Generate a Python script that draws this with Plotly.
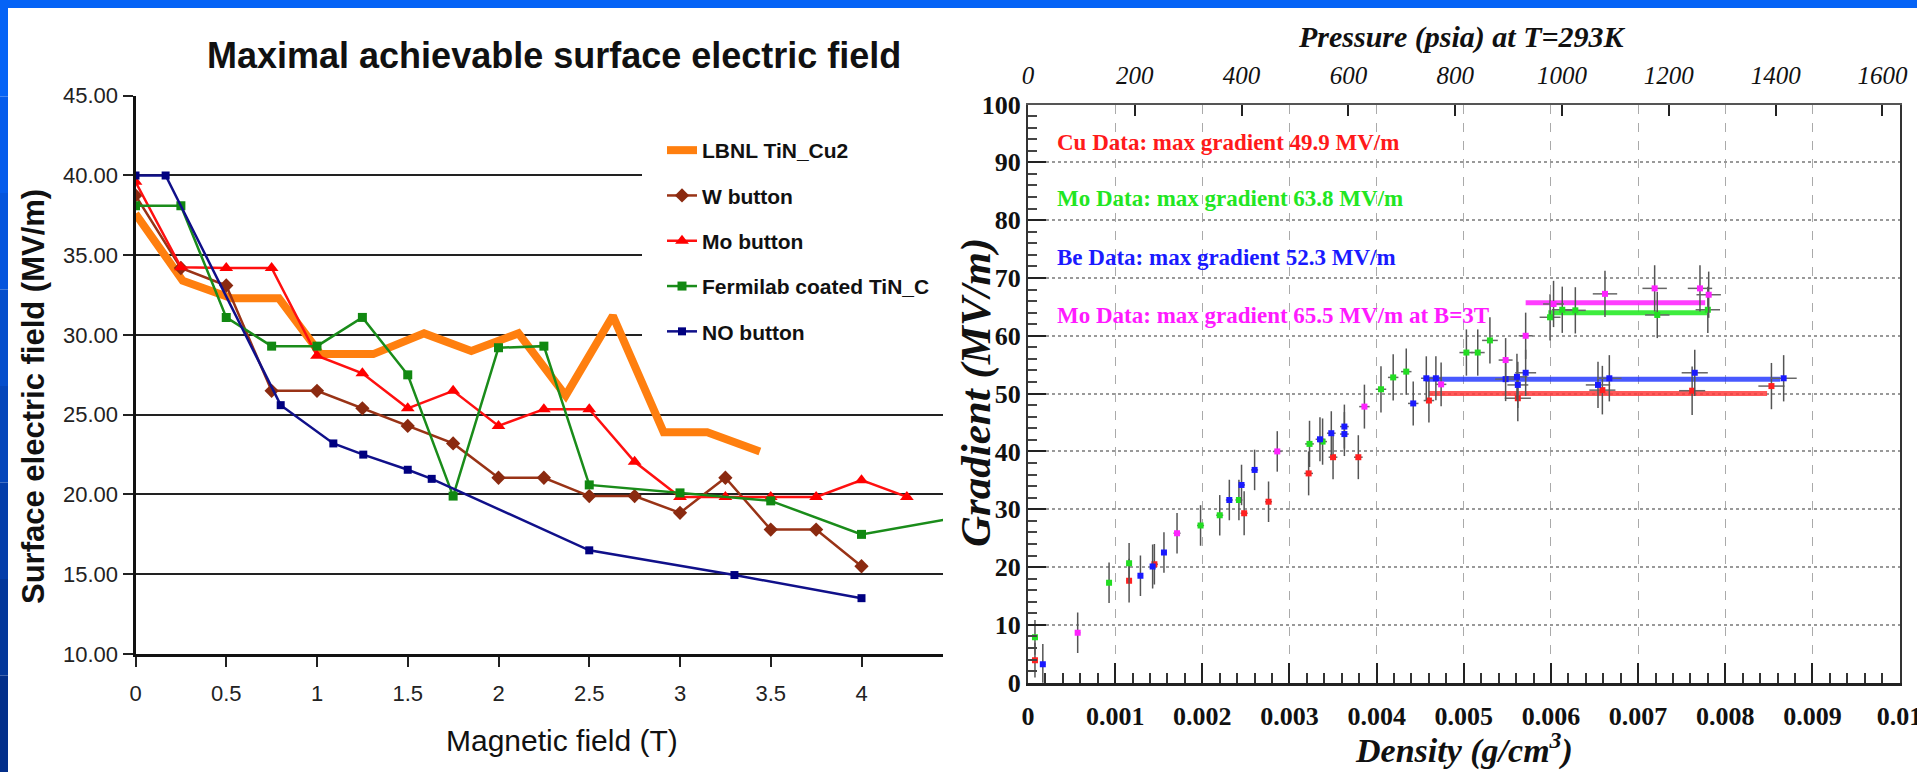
import plotly.graph_objects as go

W, H = 1917, 772

# ---------------- Left panel data (Magnetic field, T -> Surface E field, MV/m) -------------
lbnl_x = [0, 0.26, 0.53, 0.79, 1.02, 1.31, 1.59, 1.85, 2.11, 2.37, 2.63, 2.91, 3.15, 3.44]
lbnl_y = [37.6, 33.4, 32.3, 32.3, 28.8, 28.8, 30.1, 29.0, 30.1, 26.2, 31.2, 23.9, 23.9, 22.7]

w_x = [0, 0.25, 0.5, 0.75, 1, 1.25, 1.5, 1.75, 2, 2.25, 2.5, 2.75, 3, 3.25, 3.5, 3.75, 4]
w_y = [38.75, 34.2, 33.1, 26.5, 26.5, 25.4, 24.3, 23.2, 21.05, 21.05, 19.9, 19.9, 18.85, 21.05, 17.8, 17.8, 15.5]

mo_x = [0, 0.25, 0.5, 0.75, 1, 1.25, 1.5, 1.75, 2, 2.25, 2.5, 2.75, 3, 3.25, 3.5, 3.75, 4, 4.25]
mo_y = [39.6, 34.25, 34.2, 34.2, 28.7, 27.6, 25.4, 26.5, 24.3, 25.35, 25.35, 22.05, 19.85, 19.85, 19.85, 19.85, 20.9, 19.85]

fnal_x = [0, 0.25, 0.5, 0.75, 1, 1.25, 1.5, 1.75, 2, 2.25, 2.5, 3, 3.5, 4, 4.5]
fnal_y = [38.1, 38.1, 31.1, 29.3, 29.3, 31.1, 27.5, 19.9, 29.2, 29.3, 20.6, 20.1, 19.6, 17.5, 18.5]

no_x = [0, 0.166, 0.8, 1.09, 1.255, 1.5, 1.632, 2.5, 3.3, 4.0]
no_y = [40, 40, 25.6, 23.2, 22.5, 21.55, 20.98, 16.5, 14.95, 13.5]

left_names = ["LBNL TiN_Cu2", "W button", "Mo button", "Fermilab coated TiN_C", "NO button"]

# ---------------- Right panel data (Density g/cm3 -> Gradient MV/m) -------------
cu_d = [0.00008, 0.00116, 0.00145, 0.00248, 0.00276, 0.00322, 0.00350, 0.00379, 0.00460, 0.00562, 0.00659, 0.00762, 0.00853]
cu_g = [3.9, 17.65, 20.5, 29.3, 31.3, 36.2, 39.0, 39.0, 48.8, 49.2, 50.6, 50.5, 51.3]
cu_ey = [3.0, 3.8, 3.5, 3.8, 3.5, 3.8, 3.8, 3.8, 3.8, 4.0, 4.2, 4.2, 4.0]
cu_ex = [0.00003, 0.00003, 0.00004, 0.00004, 0.00004, 0.00005, 0.00005, 0.00005, 0.00006, 0.00015, 0.00015, 0.00015, 0.00015]

mo_d = [0.00008, 0.00093, 0.00116, 0.00198, 0.00220, 0.00242, 0.00323, 0.00338, 0.00405, 0.00419, 0.00434,
        0.00503, 0.00516, 0.00530, 0.00599, 0.00613, 0.00628, 0.00722, 0.00780]
mo_g = [7.85, 17.3, 20.65, 27.2, 28.95, 31.6, 41.3, 41.7, 50.75, 52.8, 53.8, 57.1, 57.1, 59.2, 63.2, 64.5, 64.4, 63.6, 64.5]
mo_ey = [3.0, 3.5, 3.5, 3.5, 3.5, 3.5, 4.0, 4.0, 4.0, 4.0, 4.0, 4.0, 4.0, 4.0, 4.0, 4.0, 4.0, 4.0, 4.0]
mo_ex = [0.00003, 0.00003, 0.00003, 0.00004, 0.00004, 0.00004, 0.00005, 0.00005, 0.00006, 0.00006, 0.00006,
         0.00008, 0.00008, 0.00009, 0.00012, 0.00012, 0.00012, 0.00014, 0.00014]

be_d = [0.00017, 0.00129, 0.00143, 0.00156, 0.00231, 0.00245, 0.00260, 0.00335, 0.00348, 0.00363, 0.00363,
        0.00442, 0.00457, 0.00468, 0.00548, 0.00561, 0.00562, 0.00571, 0.00654, 0.00667, 0.00765, 0.00867]
be_g = [3.2, 18.5, 20.1, 22.5, 31.6, 34.2, 36.8, 42.1, 43.15, 44.3, 43.0, 48.3, 52.65, 52.65, 52.5, 52.9, 51.5,
        53.6, 51.5, 52.65, 53.6, 52.65]
be_ey = [3.5, 3.5, 3.8, 3.5, 3.5, 3.5, 3.5, 3.8, 3.8, 3.8, 3.8, 3.8, 3.8, 3.8, 3.8, 4.0, 4.0, 4.0, 4.0, 4.0, 4.0, 4.0]
be_ex = [0.00003, 0.00003, 0.00003, 0.00003, 0.00004, 0.00004, 0.00004, 0.00005, 0.00005, 0.00005, 0.00005,
         0.00006, 0.00006, 0.00006, 0.00012, 0.00012, 0.00012, 0.00012, 0.00014, 0.00014, 0.00015, 0.00015]

mb_d = [0.00057, 0.00171, 0.00286, 0.00386, 0.00474, 0.00548, 0.00571, 0.00603, 0.00662, 0.00719, 0.00771, 0.00781]
mb_g = [8.65, 25.85, 40.0, 47.75, 51.6, 55.8, 60.0, 65.5, 67.25, 68.2, 68.2, 67.1]
mb_ey = [3.5, 3.5, 3.5, 3.8, 3.8, 3.8, 4.0, 4.0, 4.0, 4.0, 4.0, 4.0]
mb_ex = [0.00003, 0.00004, 0.00005, 0.00006, 0.00006, 0.00008, 0.00008, 0.00012, 0.00014, 0.00014, 0.00014, 0.00014]

band_x0 = [0.00460, 0.00597, 0.00456, 0.00571]
band_x1 = [0.00848, 0.00779, 0.00863, 0.00777]
band_y = [50.0, 64.0, 52.5, 65.7]
band_colors = ["rgba(255,60,60,0.85)", "rgba(40,235,40,0.9)", "rgba(40,60,255,0.85)", "rgba(255,40,255,0.9)"]

right_labels = ["Cu Data: max gradient 49.9 MV/m", "Mo Data: max gradient 63.8 MV/m",
                "Be Data: max gradient 52.3 MV/m", "Mo Data: max gradient 65.5 MV/m at B=3T"]
right_label_colors = ["#ff1a1a", "#22e622", "#1a1aff", "#ff1aff"]

density_ticks = [0, 0.001, 0.002, 0.003, 0.004, 0.005, 0.006, 0.007, 0.008, 0.009, 0.01]
density_ticktext = ["0", "0.001", "0.002", "0.003", "0.004", "0.005", "0.006", "0.007", "0.008", "0.009", "0.01"]


def px(x):
    return x / W


def py(y):
    return 1 - y / H


SANS = "Liberation Sans"
SERIF = "Liberation Serif"

fig = go.Figure()

# ---- left traces
fig.add_trace(go.Scatter(x=lbnl_x, y=lbnl_y, mode="lines", name=left_names[0], legendgroup="a",
                         line=dict(color="#ff7f0f", width=8), xaxis="x", yaxis="y"))
fig.add_trace(go.Scatter(x=w_x, y=w_y, mode="lines+markers", name=left_names[1], legendgroup="b",
                         line=dict(color="#993316", width=2.5),
                         marker=dict(symbol="diamond", size=11, color="#8b2a10"), xaxis="x", yaxis="y"))
fig.add_trace(go.Scatter(x=mo_x, y=mo_y, mode="lines+markers", name=left_names[2], legendgroup="c",
                         line=dict(color="#ff1010", width=2.5),
                         marker=dict(symbol="triangle-up", size=12, color="#ff0000"), xaxis="x", yaxis="y"))
fig.add_trace(go.Scatter(x=fnal_x, y=fnal_y, mode="lines+markers", name=left_names[3], legendgroup="d",
                         line=dict(color="#1a8c1a", width=2.5),
                         marker=dict(symbol="square", size=9, color="#118811"), xaxis="x", yaxis="y"))
fig.add_trace(go.Scatter(x=no_x, y=no_y, mode="lines+markers", name=left_names[4], legendgroup="e",
                         line=dict(color="#10108a", width=2.5),
                         marker=dict(symbol="square", size=8, color="#000080"), xaxis="x", yaxis="y"))

# ---- right traces: max-gradient bands
for x0, x1, yb, c in zip(band_x0, band_x1, band_y, band_colors):
    fig.add_trace(go.Scatter(x=[x0, x1], y=[yb, yb], mode="lines", line=dict(color=c, width=5),
                             showlegend=False, hoverinfo="skip", xaxis="x2", yaxis="y2"))

# ---- right traces: data points with error bars
for d, g, ey, ex, col in [(cu_d, cu_g, cu_ey, cu_ex, "#ff2020"),
                          (mo_d, mo_g, mo_ey, mo_ex, "#22dd22"),
                          (be_d, be_g, be_ey, be_ex, "#1a1aff"),
                          (mb_d, mb_g, mb_ey, mb_ex, "#ff22ff")]:
    fig.add_trace(go.Scatter(x=d, y=g, mode="markers", showlegend=False,
                             marker=dict(symbol="square", size=6, color=col),
                             error_y=dict(type="data", array=ey, color="#555555", thickness=1.5, width=0),
                             error_x=dict(type="data", array=ex, color="#666666", thickness=1.5, width=0),
                             xaxis="x2", yaxis="y2"))

# empty trace so that the pressure axis is attached
fig.add_trace(go.Scatter(x=[], y=[], showlegend=False, xaxis="x3", yaxis="y2"))

# ---- background decoration (blue slide border)
shapes = [dict(type="rect", xref="paper", yref="paper", x0=0, x1=1, y0=py(8), y1=1,
               fillcolor="#0563f6", line=dict(width=0), layer="below")]
strip_cols = ["#0563f6", "#055cec", "#0555dd", "#054ecc", "#0546bb", "#043eaa", "#03379a", "#032f8a"]
n = len(strip_cols)
for i, c in enumerate(strip_cols):
    shapes.append(dict(type="rect", xref="paper", yref="paper", x0=0, x1=px(8),
                       y0=1 - (i + 1) / n, y1=1 - i / n, fillcolor=c, line=dict(width=0), layer="below"))
# white box behind the legend (hides the grid lines there)
shapes.append(dict(type="rect", xref="x", yref="y", x0=(642 - 135.5) / 181.5, x1=4.6,
                   y0=45 - (362 - 95.7) / 15.96, y1=45 - (122 - 95.7) / 15.96,
                   fillcolor="white", line=dict(width=0), layer="between"))

annotations = [
    dict(text="Maximal achievable surface electric field", x=px(554), y=py(55),
         font=dict(family=SANS, size=36, color="#111", weight="bold")),
    dict(text="Magnetic field (T)", x=px(562), y=py(740),
         font=dict(family=SANS, size=30, color="#111")),
    dict(text="Surface electric field (MV/m)", x=px(33), y=py(397), textangle=-90,
         font=dict(family=SANS, size=31, color="#111", weight="bold")),
    dict(text="Pressure (psia) at T=293K", x=px(1462), y=py(37),
         font=dict(family=SERIF, size=30, color="#111", weight="bold", style="italic")),
    dict(text="Density (g/cm<sup>3</sup>)", x=px(1464), y=py(748),
         font=dict(family=SERIF, size=34, color="#111", weight="bold", style="italic")),
    dict(text="Gradient (MV/m)", x=px(976), y=py(392), textangle=-90,
         font=dict(family=SERIF, size=43, color="#111", weight="bold", style="italic")),
]
for txt, col, yy in zip(right_labels, right_label_colors, [142, 198, 257, 315]):
    annotations.append(dict(text=txt, x=px(1055), y=py(yy), xanchor="left",
                            font=dict(family=SERIF, size=23, color=col, weight="bold")))
for a in annotations:
    a.setdefault("xanchor", "center")
    a.update(xref="paper", yref="paper", yanchor="middle", showarrow=False)

fig.update_layout(
    width=W, height=H, margin=dict(l=0, r=0, t=0, b=0, autoexpand=False),
    paper_bgcolor="white", plot_bgcolor="white",
    showlegend=True,
    legend=dict(x=px(662), y=py(130), xanchor="left", yanchor="top", bgcolor="rgba(0,0,0,0)",
                font=dict(family=SANS, size=21, color="#111", weight="bold"), traceorder="grouped",
                tracegroupgap=15),
    shapes=shapes, annotations=annotations,
    xaxis=dict(domain=[px(135.5), px(943)], range=[0, (943 - 135.5) / 181.5], anchor="y", automargin=False,
               dtick=0.5, tick0=0, ticks="outside", ticklen=10, tickwidth=2, tickcolor="#222",
               showline=True, linecolor="#111", linewidth=3, showgrid=False, zeroline=False,
               tickfont=dict(family=SANS, size=22, color="#222"), ticklabelstandoff=8),
    yaxis=dict(domain=[py(654), py(95.7)], range=[10, 45], anchor="x", automargin=False,
               dtick=5, tick0=10, tickformat=".2f", ticks="outside", ticklen=10, tickwidth=2, tickcolor="#222",
               showline=True, linecolor="#111", linewidth=3, showgrid=True, gridcolor="#222", gridwidth=1.5,
               zeroline=False, tickfont=dict(family=SANS, size=22, color="#222")),
    xaxis2=dict(domain=[px(1028), px(1900)], range=[0, 0.010005], anchor="y2", automargin=False,
                tickvals=density_ticks, ticktext=density_ticktext, ticks="inside", ticklen=20, tickwidth=2,
                tickcolor="#222", minor=dict(dtick=0.0002, ticklen=10, ticks="inside", tickcolor="#333", showgrid=False),
                showline=True, linecolor="#222", linewidth=3, showgrid=True, gridcolor="#aaaaaa",
                griddash="dash", gridwidth=1.2, zeroline=False, ticklabeloverflow="allow",
                tickfont=dict(family=SERIF, size=26, color="#111", weight="bold"), ticklabelstandoff=8),
    xaxis3=dict(overlaying="x2", anchor="y2", side="top", range=[0, 1632.8], dtick=200, tick0=0, automargin=False,
                ticks="inside", ticklen=11, tickwidth=2, tickcolor="#222", showline=True, linecolor="#555",
                linewidth=2, showgrid=False, zeroline=False, ticklabeloverflow="allow",
                tickfont=dict(family=SERIF, size=25, color="#111", style="italic"), ticklabelstandoff=9),
    yaxis2=dict(domain=[py(682.7), py(104.5)], range=[0, 100], anchor="x2", automargin=False,
                dtick=10, tick0=0, ticks="inside", ticklen=18, tickwidth=2, tickcolor="#222",
                minor=dict(dtick=2, ticklen=9, ticks="inside", tickcolor="#444", showgrid=False),
                showline=True, mirror=True, linecolor="#333", linewidth=2, showgrid=True, gridcolor="#999999",
                griddash="dot", gridwidth=1.5, zeroline=False,
                tickfont=dict(family=SERIF, size=26, color="#111", weight="bold")),
)

fig.write_html("out.html")
